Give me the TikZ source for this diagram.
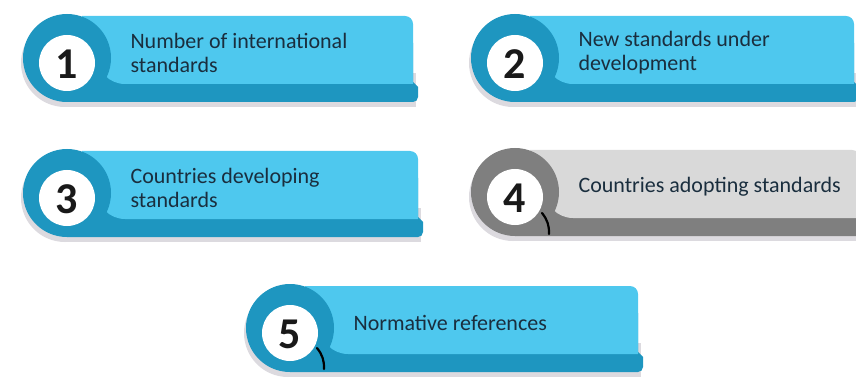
\documentclass[tikz,border=0pt]{standalone}
\usepackage{fontspec}
\setmainfont{Carlito}
\definecolor{lb}{HTML}{4EC8EE}
\definecolor{db}{HTML}{1E96C0}
\definecolor{lg}{HTML}{D9D9D9}
\definecolor{dg}{HTML}{7F7F7F}
\definecolor{txt}{HTML}{1A2E3E}
\definecolor{shd}{HTML}{DCDADF}
\tikzset{
  labeltext/.style={anchor=west, align=left, text=txt, font=\fontsize{22}{24}\selectfont},
  numtext/.style={text=black!90, font=\bfseries\fontsize{44}{44}\selectfont},
  markline/.style={line width=2.2pt, line cap=round, black}
}
% #1 name, #2 cx, #3 cy, #4 width, #5 light, #6 dark, #7 number, #8 text, #9 extra
\newcommand\callout[9]{%
  \begin{scope}[shift={(#2,#3)}]
    \fill[shd] (-2,0) circle[radius=44pt];
    \fill[shd] (0,10) rectangle (#4+3,44);
    \fill[#6] (0,-20) -- (#4,-20) -- (#4,19) -- (#4+5,24) -- (#4+5,34)
      arc[start angle=0,end angle=90,radius=5pt] -- (0,39) -- cycle;
    \fill[#5] (15,-47) -- (#4-8,-47) arc[start angle=270,end angle=360,radius=8pt]
      -- (#4,21) -- (58,21) arc[start angle=90,end angle=180,radius=28pt] -- (15,-7) -- cycle;
    \fill[#6] (0,-5) circle[radius=44pt];
    \fill[white] (0,0) circle[radius=28pt];
    #9
    \node[numtext] (n#1) at (0,1) {#7};
    \node[labeltext] (t#1) at (60,-10) {#8};
  \end{scope}}
\begin{document}
\begin{tikzpicture}[x=1pt,y=1pt,yscale=-1]
  \useasboundingbox (0,0) rectangle (856,382);
  \callout{a}{67}{63}{346}{lb}{db}{1}{Number of international\\standards}{}
  \callout{b}{515}{63}{339}{lb}{db}{2}{New standards under\\development}{}
  \callout{c}{67}{198}{351}{lb}{db}{3}{Countries developing\\standards}{}
  \callout{d}{515}{197}{345}{lg}{dg}{4}{Countries adopting standards}{\coordinate (ma) at (27,16); \coordinate (mb) at (34,37); \draw[markline] (ma) to[bend right=20] (mb);}
  \callout{e}{290}{333}{348}{lb}{db}{5}{Normative references}{\coordinate (mc) at (27,15); \coordinate (md) at (34,36); \draw[markline] (mc) to[bend right=20] (md);}
\end{tikzpicture}
\end{document}
